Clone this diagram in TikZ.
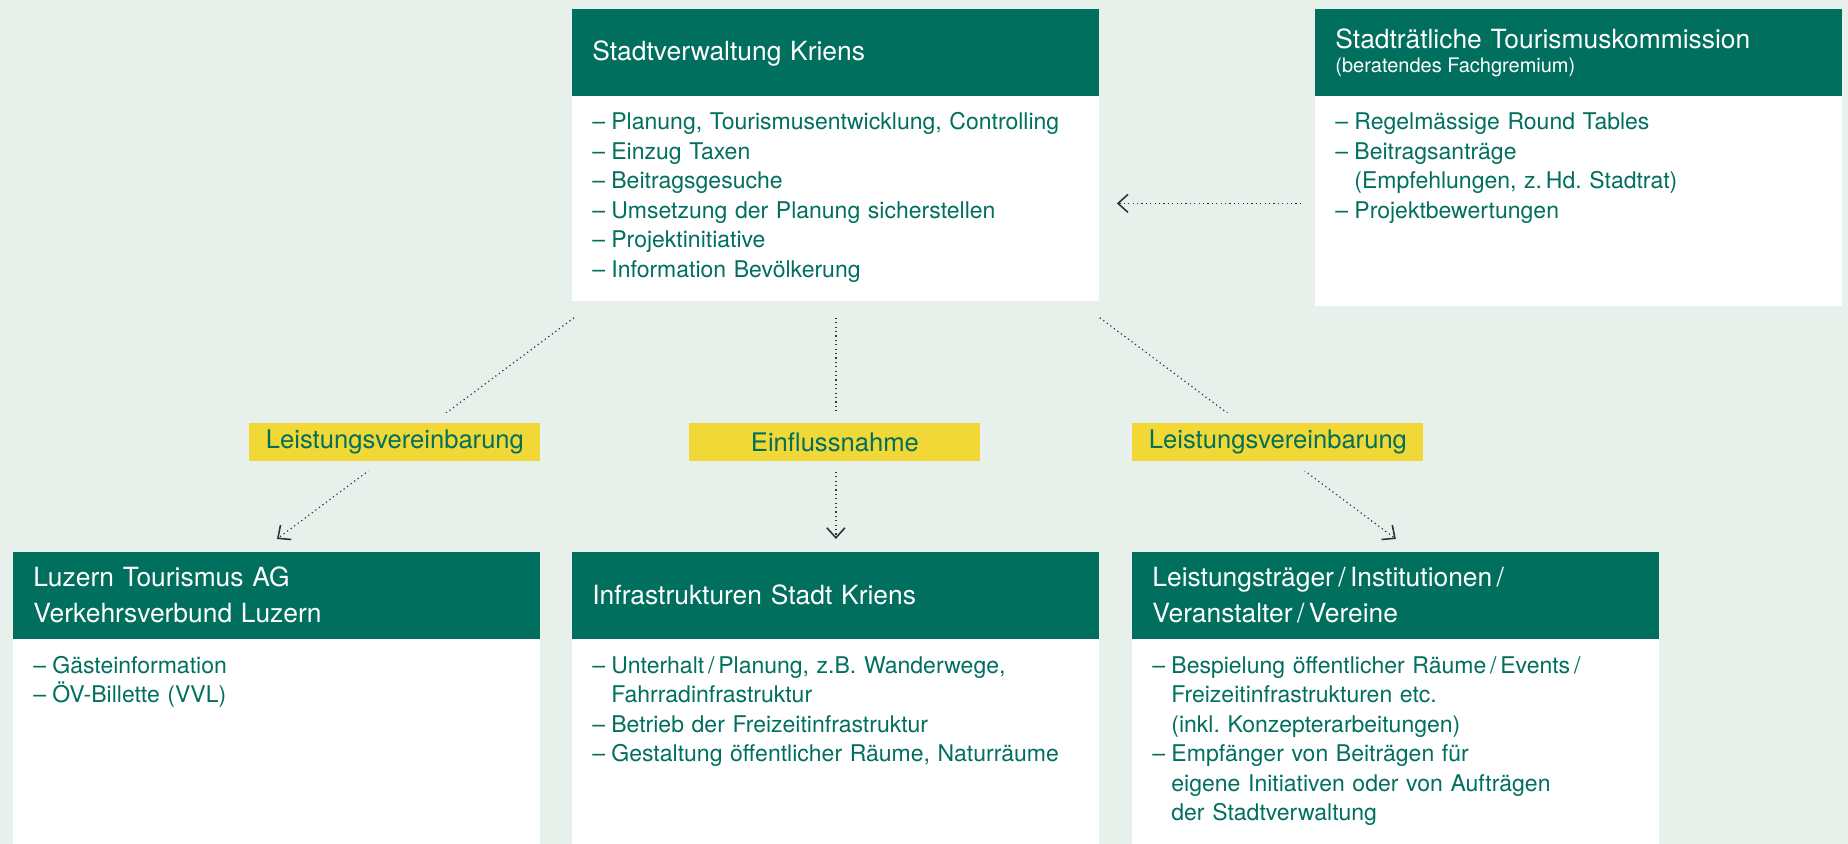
\documentclass[tikz,border=0pt]{standalone}
\usepackage{fontspec}
\setmainfont{TeX Gyre Heros}
\usetikzlibrary{arrows.meta,calc}
\definecolor{bg}{RGB}{232,240,236}
\definecolor{kgreen}{RGB}{0,111,94}
\definecolor{kyellow}{RGB}{242,216,54}
\definecolor{lnc}{RGB}{51,51,51}
\newcommand{\dsh}{\makebox[9.5pt][l]{–}}
\newcommand{\ind}{\hspace*{9.5pt}}
\frenchspacing
\begin{document}
\begin{tikzpicture}[x=0.5pt,y=-0.5pt,
 hdr/.style={fill=kgreen, draw=none, anchor=north west, inner sep=0pt, minimum width=263.5pt, minimum height=43.5pt},
 bodybox/.style={fill=white, draw=none, anchor=north west, inner sep=0pt, minimum width=263.5pt},
 htext/.style={anchor=base west, inner sep=0pt, text=white, font=\fontsize{13.2}{17.5}\selectfont\frenchspacing, text width=250pt, align=left},
 stext/.style={anchor=base west, inner sep=0pt, text=white, font=\fontsize{10}{12}\selectfont},
 btext/.style={anchor=base west, inner sep=0pt, text=kgreen, font=\fontsize{11.5}{14.75}\selectfont\frenchspacing, text width=250pt, align=left},
 lbl/.style={fill=kyellow, text=kgreen, inner sep=0pt, anchor=north west, minimum width=145.5pt, minimum height=19pt, font=\fontsize{12.8}{15}\selectfont, preaction={draw=bg, line width=10pt}},
 conn/.style={draw=lnc, line width=0.6pt, dash pattern=on 0.6pt off 1.6pt, -{Straight Barb[length=5pt,width=9pt,line width=0.8pt]}}
]
\fill[bg] (0,0) rectangle (1848,844);
\useasboundingbox (0,0) rectangle (1848,844);

% boxes
\node[hdr] (svh) at (572,9) {};
\node[bodybox, minimum height=102.5pt] (svb) at (572,96) {};
\node[hdr] (tkh) at (1315,9) {};
\node[bodybox, minimum height=105pt] (tkb) at (1315,96) {};
\node[hdr] (lth) at (13,552) {};
\node[bodybox, minimum height=102.5pt] (ltb) at (13,639) {};
\node[hdr] (ish) at (572,552) {};
\node[bodybox, minimum height=102.5pt] (isb) at (572,639) {};
\node[hdr] (lih) at (1132,552) {};
\node[bodybox, minimum height=102.5pt] (lib) at (1132,639) {};

% texts
\node[htext] (svt) at (592,61) {Stadtverwaltung Kriens};
\node[btext] (svl) at (592,130) {\dsh Planung, Tourismusentwicklung, Controlling\\
\dsh Einzug Taxen\\
\dsh Beitragsgesuche\\
\dsh Umsetzung der Planung sicherstellen\\
\dsh Projektinitiative\\
\dsh Information Bevölkerung};

\node[htext] (tkt) at (1335,48.3) {Stadträtliche Tourismuskommission};
\node[stext] (tks) at (1335,73) {(beratendes Fachgremium)};
\node[btext] (tkl) at (1335,130) {\dsh Regelmässige Round Tables\\
\dsh Beitragsanträge\\
\ind (Empfehlungen, z.\,Hd. Stadtrat)\\
\dsh Projektbewertungen};

\node[htext] (ltt) at (33,587) {Luzern Tourismus AG\\Verkehrsverbund Luzern};
\node[btext] (ltl) at (33,673) {\dsh Gästeinformation\\
\dsh ÖV-Billette (VVL)};

\node[htext] (ist) at (592,604) {Infrastrukturen Stadt Kriens};
\node[btext] (isl) at (592,673) {\dsh Unterhalt\,/\,Planung, z.B. Wanderwege,\\
\ind Fahrradinfrastruktur\\
\dsh Betrieb der Freizeitinfrastruktur\\
\dsh Gestaltung öffentlicher Räume, Naturräume};

\node[htext] (lit) at (1152,587) {Leistungsträger\,/\,Institutionen\,/\\Veranstalter\,/\,Vereine};
\node[btext] (lil) at (1152,673) {\dsh Bespielung öffentlicher Räume\,/\,Events\,/\\
\ind Freizeitinfrastrukturen etc.\\
\ind (inkl. Konzepterarbeitungen)\\
\dsh Empfänger von Beiträgen für\\
\ind eigene Initiativen oder von Aufträgen\\
\ind der Stadtverwaltung};

% connectors
\draw[conn] ($(svb.south west)+(2,16)$) -- ($(lth.north)+(0,-13)$);
\draw[conn] ($(svb.south)+(0,16)$) -- ($(ish.north)+(0,-13)$);
\draw[conn] ($(svb.south east)+(0,16)$) -- ($(lih.north)+(0,-13)$);
\coordinate (hs) at ($(tkb.west)+(-14,2)$);
\draw[conn] (hs) -- ($(hs -| svb.east)+(17,0)$);

% labels
\node[lbl] (l1) at (249,423) {Leistungsvereinbarung};
\node[lbl] (l2) at (689,423) {Einflussnahme};
\node[lbl] (l3) at (1132,423) {Leistungsvereinbarung};
\end{tikzpicture}
\end{document}
